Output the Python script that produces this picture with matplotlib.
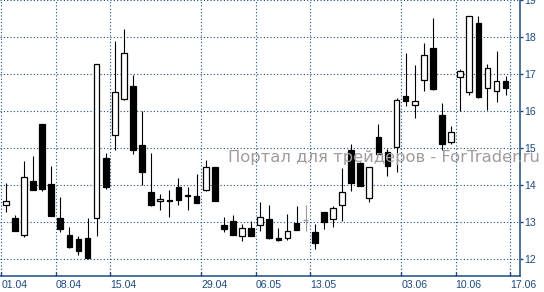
import numpy as np
import matplotlib
matplotlib.use("Agg")
import matplotlib.pyplot as plt

# daily candles (bar index 0..55)
opens = [13.46, 13.11, 12.65, 14.11, 15.66, 14.04, 13.11, 12.66, 12.55, 12.59,
         13.11, 14.74, 15.35, 16.33, 16.68, 15.09, 13.81, 13.57, 13.61, 13.95,
         13.73, 13.71, 13.87, 14.49, 12.92, 13.05, 12.63, 12.86, 12.92, 13.08,
         12.57, 12.59, 12.98, 13.06, 12.74, 13.27, 13.08, 13.46, 14.95, 14.60,
         13.67, 15.31, 14.89, 15.03, 16.41, 16.16, 16.86, 17.70, 15.89, 15.16,
         16.92, 16.51, 18.38, 16.62, 16.55, 16.82]
highs = [14.07, 13.20, 14.66, 14.80, 15.66, 14.53, 13.69, 12.87, 12.64, 13.12,
         17.27, 14.87, 17.91, 18.23, 16.98, 16.01, 14.87, 13.77, 13.87, 14.20,
         13.95, 14.30, 14.68, 14.49, 13.14, 13.19, 12.95, 13.04, 13.56, 13.47,
         12.86, 13.23, 13.44, 13.47, 12.95, 13.27, 13.45, 14.47, 15.12, 14.62,
         14.49, 15.66, 14.98, 16.36, 17.59, 17.25, 17.85, 18.53, 16.22, 15.60,
         17.14, 18.59, 18.59, 17.27, 17.63, 16.95]
lows = [13.27, 12.76, 12.61, 13.88, 13.85, 13.18, 12.75, 12.32, 12.12, 12.00,
        12.64, 13.91, 14.96, 16.32, 14.86, 14.02, 13.45, 13.34, 13.14, 13.48,
        13.34, 13.51, 13.86, 13.57, 12.75, 12.65, 12.49, 12.62, 12.77, 12.55,
        12.49, 12.53, 12.78, 12.77, 12.27, 12.82, 12.88, 13.04, 13.85, 13.99,
        13.56, 14.84, 14.26, 14.35, 16.15, 15.81, 16.56, 16.59, 14.95, 15.11,
        16.00, 16.43, 16.37, 16.03, 16.25, 16.45]
closes = [13.58, 12.77, 14.22, 13.88, 13.91, 13.18, 12.83, 12.34, 12.23, 12.05,
          17.27, 13.96, 16.51, 17.57, 14.96, 14.37, 13.48, 13.63, 13.59, 13.61,
          13.71, 13.51, 14.49, 13.59, 12.83, 12.65, 12.84, 12.64, 13.14, 12.59,
          12.53, 12.77, 12.80, 13.06, 12.45, 13.02, 13.38, 13.81, 14.07, 13.99,
          14.49, 14.84, 14.53, 16.31, 16.27, 16.27, 17.51, 16.61, 15.13, 15.43,
          17.09, 18.59, 16.40, 17.16, 16.82, 16.62]

# week labels and the bar where each week starts
date_labels = ["01.04", "08.04", "15.04", "29.04", "06.05", "13.05", "03.06", "10.06", "17.06"]
date_bars = [0, 6, 12, 22, 28, 34, 44, 50, 56]
price_ticks = [12, 13, 14, 15, 16, 17, 18, 19]

navy = "#1d4a7e"

plt.rcParams['font.family'] = ['Liberation Sans', 'DejaVu Sans']
fig = plt.figure(figsize=(5.44, 2.92), dpi=100)
ax = fig.add_axes([0.0, 16/292, 520.3/544, 276/292])

o = np.array(opens); h = np.array(highs); l = np.array(lows); c = np.array(closes)
x = np.arange(len(o))
up = c >= o
flat = np.isclose(o, c)

# wicks
wick_col = np.where(flat, "#9a9a9a", "black")
ax.vlines(x, l, h, colors=wick_col, linewidth=0.8, zorder=2)

# bodies
bottom = np.minimum(o, c)
height = np.maximum(np.abs(c - o), 0.005)
face = np.where(up, "white", "black")
face = np.where(flat, "#9a9a9a", face)
edge = np.where(flat, "#9a9a9a", "black")
ax.bar(x, height, bottom=bottom, width=0.62, color=face, edgecolor=edge,
       linewidth=0.9, zorder=3)

ax.set_xlim(-0.627, 56.61)
ax.set_ylim(11.55, 19.01)

# dotted grid
for yv in price_ticks:
    ax.axhline(yv, color=navy, linestyle=(0, (1, 2)), linewidth=0.8, zorder=1)
tick_x = [b - 0.5 for b in date_bars]
for xv in tick_x:
    ax.axvline(xv, color=navy, linestyle=(0, (1, 2)), linewidth=0.8, zorder=1)

# axes look
for s in ['left', 'top']:
    ax.spines[s].set_visible(False)
for s in ['right', 'bottom']:
    ax.spines[s].set_color(navy)
    ax.spines[s].set_linewidth(1.1)
ax.yaxis.tick_right()
ax.set_yticks(price_ticks)
ax.set_yticklabels([str(v) for v in price_ticks])
ax.tick_params(axis='y', direction='out', length=2.3, width=1, colors=navy,
               labelcolor=navy, labelsize=7.6, pad=0.8)
ax.set_xticks(tick_x)
ax.set_xticklabels(date_labels, ha='left')
ax.tick_params(axis='x', direction='in', length=3, width=1, colors=navy,
               labelcolor=navy, labelsize=7.6, pad=3.2)

# watermark
ax.text(24.45, 14.64, "Портал для трейдеров - ForTrader.ru", color="#a39a9a",
        family='DejaVu Sans', fontsize=11.8, ha='left', va='baseline',
        zorder=5, clip_on=False)

fig.savefig("out.png", dpi=100)
